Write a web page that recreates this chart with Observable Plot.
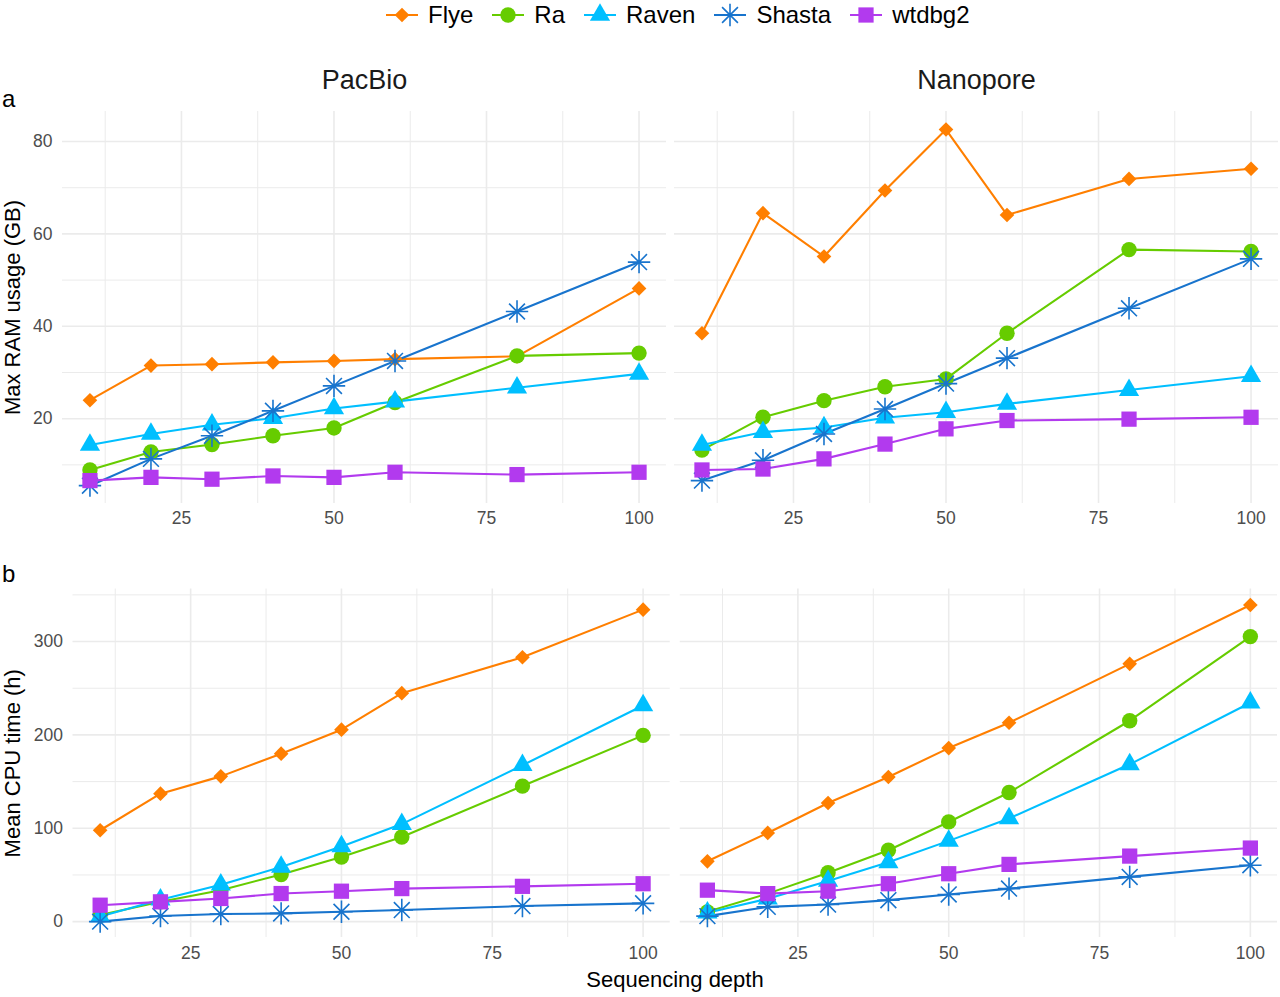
<!DOCTYPE html>
<html>
<head>
<meta charset="utf-8">
<script src="https://cdn.jsdelivr.net/npm/d3@7"></script>
<script src="https://cdn.jsdelivr.net/npm/@observablehq/plot@0.6"></script>
<style>
  html, body { margin: 0; padding: 0; background: #fff; }
  #chart { position: relative; width: 1280px; height: 997px; overflow: hidden;
    font-family: "Liberation Sans", Arial, Helvetica, sans-serif; }
  #legend { position: absolute; left: 386px; top: 1px; height: 28px; display: flex; align-items: center; }
  #legend .item { display: flex; align-items: center; margin-right: 19px; }
  #legend .item span { font-size: 24px; color: #000; margin-left: 10px; }
  .tag { position: absolute; font-size: 24px; color: #000; }
  #xtitle { position: absolute; top: 967px; left: 72px; width: 1206px; text-align: center; font-size: 22px; color: #000; }
  .plot { position: absolute; left: 0; }
</style>
</head>
<body>
<div id="chart">
  <div id="legend"></div>
  <div class="tag" style="left:2px; top:85px;">a</div>
  <div class="tag" style="left:2px; top:560px;">b</div>
  <div id="top" class="plot" style="top:40px;"></div>
  <div id="bottom" class="plot" style="top:540px;"></div>
  <div id="xtitle">Sequencing depth</div>
</div>
<script>
// ---------------- data ----------------
const depths = [10, 20, 30, 40, 50, 60, 80, 100];
const assemblers = ["Flye", "Ra", "Raven", "Shasta", "wtdbg2"];
const platforms = ["PacBio", "Nanopore"];

// Max RAM usage (GB), PacBio
const ramPacBioFlye   = [24.0, 31.5, 31.8, 32.2, 32.5, 32.9, 33.5, 48.2];
const ramPacBioRa     = [8.9, 12.8, 14.4, 16.3, 18.0, 23.5, 33.6, 34.2];
const ramPacBioRaven  = [14.3, 16.7, 18.7, 20.1, 22.2, 23.7, 26.7, 29.7];
const ramPacBioShasta = [5.5, 11.3, 16.3, 21.7, 27.1, 32.5, 43.2, 53.9];
const ramPacBioWtdbg2 = [6.6, 7.3, 6.9, 7.6, 7.3, 8.4, 7.9, 8.4];
// Max RAM usage (GB), Nanopore
const ramNanoporeFlye   = [38.5, 64.5, 55.1, 69.4, 82.6, 64.1, 71.9, 74.1];
const ramNanoporeRa     = [13.2, 20.3, 23.9, 26.9, 28.6, 38.5, 56.6, 56.2];
const ramNanoporeRaven  = [14.3, 17.1, 18.1, 20.2, 21.4, 23.2, 26.2, 29.2];
const ramNanoporeShasta = [6.6, 11.0, 16.7, 22.1, 27.6, 33.1, 43.9, 54.6];
const ramNanoporeWtdbg2 = [8.9, 9.1, 11.3, 14.5, 17.8, 19.6, 19.9, 20.3];
// Mean CPU time (h), PacBio
const cpuPacBioFlye   = [97.9, 137.1, 155.6, 179.9, 205.6, 244.7, 283.2, 334.2];
const cpuPacBioRa     = [7.0, 21.2, 33.7, 50.5, 69.3, 90.7, 145.2, 199.5];
const cpuPacBioRaven  = [5.5, 23.5, 39.5, 58.5, 80.5, 104.5, 167.5, 231.5];
const cpuPacBioShasta = [0.0, 6.0, 8.1, 8.8, 10.6, 12.4, 16.7, 19.6];
const cpuPacBioWtdbg2 = [17.6, 21.2, 24.8, 30.1, 32.6, 35.4, 37.8, 40.6];
// Mean CPU time (h), Nanopore
const cpuNanoporeFlye   = [64.6, 95.0, 127.1, 154.9, 185.9, 213.0, 276.1, 339.2];
const cpuNanoporeRa     = [10.5, 30.0, 52.4, 76.5, 106.8, 138.3, 215.2, 305.3];
const cpuNanoporeRaven  = [9.5, 24.5, 43.5, 63.5, 86.5, 110.5, 168.5, 234.5];
const cpuNanoporeShasta = [5.9, 15.8, 18.3, 23.0, 29.1, 35.4, 47.9, 60.4];
const cpuNanoporeWtdbg2 = [33.7, 30.0, 32.6, 40.6, 51.3, 61.3, 70.2, 78.8];

const xTicks = [25, 50, 75, 100];
const xMinor = [12.5, 37.5, 62.5, 87.5];
const ramTicks = [20, 40, 60, 80];
const ramMinor = [10, 30, 50, 70];
const cpuTicks = [0, 100, 200, 300];
const cpuMinor = [50, 150, 250, 350];

// ---------------- styles ----------------
const colors = ["#FF7F00", "#66CC00", "#00BFFF", "#1874CD", "#B23AEE"];
const asterisk8 = {
  draw(context, size) {
    const r = Math.sqrt(size / Math.PI);
    const d = r * Math.SQRT1_2;
    context.moveTo(0, -r); context.lineTo(0, r);
    context.moveTo(-r, 0); context.lineTo(r, 0);
    context.moveTo(-d, -d); context.lineTo(d, d);
    context.moveTo(-d, d); context.lineTo(d, -d);
  }
};
const symbolTypes = [d3.symbolDiamond2, d3.symbolCircle, d3.symbolTriangle, asterisk8, d3.symbolSquare];
const markerR = {Flye: 6.6, Ra: 7.7, Raven: 7.5, Shasta: 11.2, wtdbg2: 8.6};
const FONT = '"Liberation Sans", Arial, Helvetica, sans-serif';

// ---------------- tables ----------------
const series = {
  ram: {
    PacBio: [ramPacBioFlye, ramPacBioRa, ramPacBioRaven, ramPacBioShasta, ramPacBioWtdbg2],
    Nanopore: [ramNanoporeFlye, ramNanoporeRa, ramNanoporeRaven, ramNanoporeShasta, ramNanoporeWtdbg2]
  },
  cpu: {
    PacBio: [cpuPacBioFlye, cpuPacBioRa, cpuPacBioRaven, cpuPacBioShasta, cpuPacBioWtdbg2],
    Nanopore: [cpuNanoporeFlye, cpuNanoporeRa, cpuNanoporeRaven, cpuNanoporeShasta, cpuNanoporeWtdbg2]
  }
};
function table(metric) {
  const rows = [];
  for (const p of platforms)
    series[metric][p].forEach((vals, i) =>
      vals.forEach((v, j) => rows.push({platform: p, assembler: assemblers[i], depth: depths[j], value: v})));
  return rows;
}
const ramRows = table("ram");
const cpuRows = table("cpu");

function dataMarks(rows) {
  const marks = [
    Plot.line(rows, {fx: "platform", x: "depth", y: "value", z: "assembler", stroke: "assembler", strokeWidth: 2.1})
  ];
  for (const a of assemblers) {
    const sub = rows.filter(d => d.assembler === a);
    const opts = {fx: "platform", x: "depth", y: "value", symbol: "assembler", r: markerR[a]};
    if (a === "Shasta") Object.assign(opts, {stroke: "assembler", strokeWidth: 1.6, fill: "none"});
    else Object.assign(opts, {fill: "assembler", stroke: "none"});
    marks.push(Plot.dot(sub, opts));
  }
  return marks;
}
function gridMarks(yMajor, yMinor) {
  const g = {stroke: "#EBEBEB", strokeOpacity: 1};
  return [
    Plot.gridY(yMinor, {...g, strokeWidth: 1}),
    Plot.gridX(xMinor, {...g, strokeWidth: 1}),
    Plot.gridY(yMajor, {...g, strokeWidth: 1.6}),
    Plot.gridX(xTicks, {...g, strokeWidth: 1.6})
  ];
}

// ---------------- top (RAM) ----------------
const topPlot = Plot.plot({
  width: 1280, height: 500,
  marginTop: 71, marginBottom: 37, marginLeft: 62, marginRight: 2,
  style: {fontFamily: FONT, background: "transparent", overflow: "visible"},
  fx: {domain: platforms, paddingInner: 0.0131, paddingOuter: 0, round: false, label: null},
  x: {domain: [5.5, 104.5]},
  y: {domain: [1.64, 86.5]},
  color: {domain: assemblers, range: colors},
  symbol: {domain: assemblers, range: symbolTypes},
  marks: [
    ...gridMarks(ramTicks, ramMinor),
    Plot.axisFx({anchor: "top", tickSize: 0, tickPadding: 23, fontSize: 27, color: "#1A1A1A", label: null}),
    Plot.axisX(xTicks, {tickSize: 0, tickPadding: 8, fontSize: 17.5, color: "#4D4D4D", label: null}),
    Plot.axisY(ramTicks, {tickSize: 0, tickPadding: 10, fontSize: 17.5, color: "#4D4D4D", label: null}),
    Plot.axisY([], {label: "Max RAM usage (GB)", labelAnchor: "center", labelArrow: "none", labelOffset: 58, fontSize: 22, color: "#000", tickSize: 0}),
    ...dataMarks(ramRows)
  ]
});
document.getElementById("top").appendChild(topPlot);

// ---------------- bottom (CPU) ----------------
const bottomPlot = Plot.plot({
  width: 1280, height: 457,
  marginTop: 48.5, marginBottom: 60, marginLeft: 72.5, marginRight: 3,
  style: {fontFamily: FONT, background: "transparent", overflow: "visible"},
  fx: {domain: platforms, paddingInner: 0.01647, paddingOuter: 0, round: false, label: null, axis: null},
  x: {domain: [5.5, 104.5]},
  y: {domain: [-17, 356.3]},
  color: {domain: assemblers, range: colors},
  symbol: {domain: assemblers, range: symbolTypes},
  marks: [
    ...gridMarks(cpuTicks, cpuMinor),
    Plot.axisX(xTicks, {tickSize: 0, tickPadding: 9, fontSize: 17.5, color: "#4D4D4D", label: null}),
    Plot.axisY(cpuTicks, {tickSize: 0, tickPadding: 10, fontSize: 17.5, color: "#4D4D4D", label: null}),
    Plot.axisY([], {label: "Mean CPU time (h)", labelAnchor: "center", labelArrow: "none", labelOffset: 69, fontSize: 22, color: "#000", tickSize: 0}),
    ...dataMarks(cpuRows)
  ]
});
document.getElementById("bottom").appendChild(bottomPlot);

// ---------------- legend ----------------
const legend = d3.select("#legend");
assemblers.forEach((a, i) => {
  const item = legend.append("div").attr("class", "item");
  const svg = item.append("svg").attr("width", 32).attr("height", 26);
  svg.append("line").attr("x1", 0).attr("x2", 32).attr("y1", 13).attr("y2", 13)
    .attr("stroke", colors[i]).attr("stroke-width", 2);
  const r = markerR[a];
  const path = svg.append("path").attr("transform", "translate(16,13)")
    .attr("d", d3.symbol(symbolTypes[i], Math.PI * r * r)());
  if (a === "Shasta") path.attr("fill", "none").attr("stroke", colors[i]).attr("stroke-width", 1.6);
  else path.attr("fill", colors[i]);
  item.append("span").text(a);
});
</script>
</body>
</html>
